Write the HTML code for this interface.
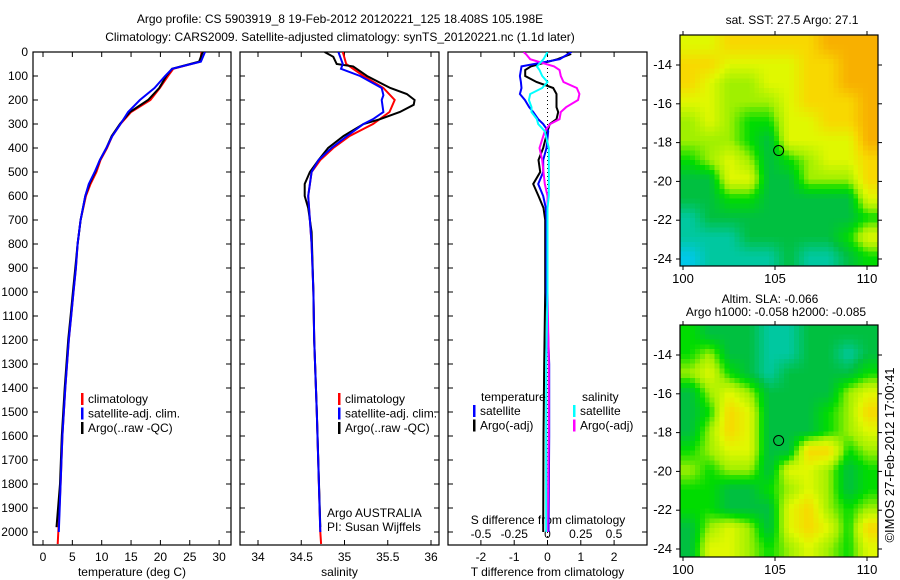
<!DOCTYPE html>
<html><head><meta charset="utf-8">
<style>
html,body{margin:0;padding:0;background:#fff;width:900px;height:580px;overflow:hidden}
svg{position:absolute;left:0;top:0}
text{font-family:"Liberation Sans",sans-serif;font-size:12px;fill:#000}
canvas{position:absolute;image-rendering:pixelated}
</style></head>
<body>
<canvas id="sstmap" width="40" height="48" style="left:680px;top:35px;width:198px;height:231px"></canvas>
<canvas id="slamap" width="40" height="48" style="left:680px;top:325px;width:198px;height:232px"></canvas>
<svg id="chart" width="900" height="580" xmlns="http://www.w3.org/2000/svg">
<text x="340" y="23" text-anchor="middle" font-size="13">Argo profile: CS 5903919_8 19-Feb-2012 20120221_125 18.408S 105.198E</text>
<text x="340" y="41" text-anchor="middle" font-size="13">Climatology: CARS2009. Satellite-adjusted climatology: synTS_20120221.nc (1.1d later)</text>
<g id="g1"></g><g id="g2"></g><g id="g3"></g><g id="gm"></g>
</svg>
<script>
// ---- data ----
const tDepthClim=[0,40,70,100,150,200,250,300,350,400,450,500,550,600,700,800,900,1000,1100,1200,1400,1600,1800,2000,2050];
const tClim=[27.0,26.8,22.2,21.3,19.9,18.3,15.0,13.2,11.8,10.9,9.8,9.1,8.1,7.3,6.4,5.9,5.6,5.2,4.8,4.4,3.8,3.3,3.0,2.6,2.5];
const tDepthSat=[0,40,70,100,150,200,250,300,350,400,450,500,550,600,700,800,900,1000,1100,1200,1400,1600,1800,2000];
const tSat=[27.6,26.9,22.0,20.8,19.0,16.5,14.5,13.2,11.8,10.8,9.7,8.8,7.8,7.2,6.4,5.9,5.6,5.2,4.8,4.4,3.8,3.3,3.0,2.7];
const tDepthArgo=[0,40,70,100,150,200,250,300,350,400,450,500,550,600,700,800,900,1000,1100,1200,1400,1600,1800,1980];
const tArgo=[27.2,26.6,22.0,21.0,19.8,17.9,14.8,13.1,11.7,10.8,9.7,8.9,7.9,7.2,6.4,5.9,5.5,5.1,4.7,4.3,3.7,3.2,2.9,2.3];

const sDepthClim=[0,50,100,150,200,250,300,350,400,450,500,600,800,1000,1200,1500,2000,2050];
const sClim=[34.98,35.02,35.22,35.45,35.58,35.52,35.33,35.06,34.87,34.72,34.62,34.58,34.62,34.64,34.65,34.68,34.72,34.73];
const sDepthSat=[0,50,70,100,150,180,200,250,280,300,350,400,450,500,600,800,1000,1200,1500,2000];
const sSat=[34.93,34.98,34.96,35.18,35.43,35.45,35.43,35.45,35.33,35.22,35.03,34.85,34.70,34.62,34.58,34.62,34.64,34.65,34.68,34.72];
const sDepthArgo=[0,20,50,60,100,150,175,200,220,250,280,300,350,400,450,500,550,600,650,750,1000,1200,1500,1980];
const sArgo=[34.77,34.87,34.91,35.10,35.26,35.53,35.72,35.81,35.80,35.64,35.41,35.22,34.99,34.81,34.70,34.60,34.54,34.54,34.58,34.62,34.64,34.65,34.68,34.72];

const dDepth=[0,10,30,60,75,100,125,150,175,200,230,250,280,300,330,400,450,500,550,600,650,700,1000,1300,1600,2000];
const dTargo=[0.58,0.67,0.3,-0.5,-0.67,-0.67,-0.33,0.17,0.27,0.27,0.27,0.32,0.27,0.07,0,-0.13,-0.27,-0.22,-0.43,-0.27,-0.12,-0.07,-0.07,-0.1,-0.12,-0.13];
const dTsat=[0.72,0.6,0.37,-0.78,-0.8,-0.83,-0.8,-0.78,-0.83,-0.68,-0.55,-0.43,-0.28,-0.13,0.02,-0.03,-0.13,-0.13,-0.28,-0.13,-0.05,-0.03,-0.03,0.05,0.05,0.03];
const dSargo=[-0.18,-0.16,-0.13,0.05,0.09,0.1,0.12,0.22,0.24,0.23,0.14,0.1,0.09,0.02,-0.02,-0.06,-0.04,-0.03,-0.02,0,0,0,0,0.01,0.01,0];
const dSsat=[0,-0.01,-0.03,-0.08,-0.06,-0.04,0,-0.04,-0.13,-0.14,-0.12,-0.12,-0.08,-0.07,-0.02,0.01,0.01,0.01,0.01,0.01,0,0,0,-0.01,-0.01,-0.01];

const depthTicks=[0,100,200,300,400,500,600,700,800,900,1000,1100,1200,1300,1400,1500,1600,1700,1800,1900,2000];
const tTicks=[0,5,10,15,20,25,30];
const sTicks=[34,34.5,35,35.5,36];
const sTickLabels=["34","34.5","35","35.5","36"];
const dTTicks=[-2,-1,0,1,2];
const dSTicks=[-0.5,-0.25,0,0.25,0.5];
const dSTickLabels=["-0.5","-0.25","0","0.25","0.5"];
const lonTicks=[100,105,110];
const latTicks=[-14,-16,-18,-20,-22,-24];

const sstGrid=[
[5,5,6,6,6,6,6,7,7,7],[6,6,5,5,5,5,6,6,7,7],[6,5,4,4,5,5,6,6,7,7],[5,5,4,4,4,5,6,6,6,7],
[4,5,4,3,3,5,5,6,6,7],[4,4,4,3,2,5,5,5,5,7],[3,4,5,4,2,3,4,5,5,6],[2,2,5,5,2,2,4,4,4,6],
[2,2,3,3,2,2,2,2,2,5],[1,2,2,2,2,2,2,2,2,3],[1,1,1,2,2,2,2,2,3,5],[0,1,1,1,1,2,1,1,2,3]];
const slaGrid=[
[3,2,2,2,1,1,2,2,2,2],[3,4,2,2,1,1,2,2,1,2],[4,5,3,2,1,2,2,2,2,3],[2,4,5,4,2,2,2,2,4,5],
[2,3,6,5,2,2,2,3,4,6],[2,4,6,5,2,2,2,3,4,5],[3,4,5,5,2,2,6,6,3,4],[4,3,4,4,2,5,5,4,2,3],
[3,3,2,2,3,4,5,4,2,3],[3,3,2,2,2,5,6,4,3,4],[2,4,5,4,2,5,6,5,3,6],[2,5,5,4,3,4,5,4,3,5]];
const argoLon=105.198, argoLat=-18.408;

// ---- scales ----
const NS="http://www.w3.org/2000/svg";
const yD=d=>52+d*0.24;
const xT=t=>43+t*5.87;
const xS=s=>258+(s-34)*86.5;
const xdT=t=>547.5+t*33.3;
const xdS=s=>547.5+s*133;
function el(tag,attrs,parent,txt){const e=document.createElementNS(NS,tag);for(const k in attrs)e.setAttribute(k,attrs[k]);if(txt!==undefined)e.textContent=txt;parent.appendChild(e);return e;}
function line(xs,ds,fx,color,parent,name){
  let p="";for(let i=0;i<xs.length;i++)p+=(i?"L":"M")+fx(xs[i]).toFixed(1)+","+yD(ds[i]).toFixed(1);
  const e=el("path",{d:p,fill:"none",stroke:color,"stroke-width":2,"clip-path":"url(#clip"+parent.id+")"},parent);
  
  
}
const svg=document.getElementById("chart");
const defs=el("defs",{},svg);
function panel(g,x0,x1,xTicks,labels,fx,xlabel,depthLabels){
  const c=el("clipPath",{id:"clip"+g.id},defs);el("rect",{x:x0,y:52,width:x1-x0,height:493},c);
  const fr=el("rect",{x:x0,y:52,width:x1-x0,height:493,fill:"none",stroke:"#000","stroke-width":1.2},g);
  
  
  depthTicks.forEach(d=>{
    el("line",{x1:x0,x2:x0+5,y1:yD(d),y2:yD(d),stroke:"#000"},g);
    el("line",{x1:x1-5,x2:x1,y1:yD(d),y2:yD(d),stroke:"#000"},g);
    if(depthLabels){const t=el("text",{x:28,y:yD(d)+4,"text-anchor":"end"},g,String(d));
      
      }
  });
  xTicks.forEach((v,i)=>{
    const x=fx(v);
    el("line",{x1:x,x2:x,y1:545,y2:540,stroke:"#000"},g);
    el("line",{x1:x,x2:x,y1:52,y2:57,stroke:"#000"},g);
    if(labels){const t=el("text",{x:x,y:561,"text-anchor":"middle"},g,labels[i]);
      
      }
  });
  if(xlabel){const t=el("text",{x:(x0+x1)/2,y:576,"text-anchor":"middle"},g,xlabel);
    
    }
}
function legend(g,x,y,items){
  items.forEach((it,i)=>{
    el("rect",{x:x,y:y+i*14.5-10,width:2.5,height:12,fill:it[0]},g);
    const t=el("text",{x:x+7,y:y+i*14.5},g,it[1]);
    
    
  });
}
// panel 1
const g1=document.getElementById("g1");
panel(g1,33,231,tTicks,tTicks.map(String),xT,"temperature (deg C)",true);
line(tClim,tDepthClim,xT,"#f00",g1,"temperature-climatology-line");
line(tArgo,tDepthArgo,xT,"#000",g1,"temperature-argo-line");
line(tSat,tDepthSat,xT,"#00f",g1,"temperature-satellite-line");
legend(g1,81,403,[["#f00","climatology"],["#00f","satellite-adj. clim."],["#000","Argo(..raw -QC)"]]);
// panel 2
const g2=document.getElementById("g2");
panel(g2,240,439,sTicks,sTickLabels,xS,"salinity",false);
line(sClim,sDepthClim,xS,"#f00",g2,"salinity-climatology-line");
line(sArgo,sDepthArgo,xS,"#000",g2,"salinity-argo-line");
line(sSat,sDepthSat,xS,"#00f",g2,"salinity-satellite-line");
legend(g2,338,403,[["#f00","climatology"],["#00f","satellite-adj. clim."],["#000","Argo(..raw -QC)"]]);
el("text",{x:327,y:517},g2,"Argo AUSTRALIA");
el("text",{x:327,y:531},g2,"PI: Susan Wijffels");
// panel 3
const g3=document.getElementById("g3");
panel(g3,448,647,dTTicks,dTTicks.map(String),xdT,"T difference from climatology",false);
el("line",{x1:547.5,x2:547.5,y1:52,y2:545,stroke:"#000","stroke-dasharray":"1,3"},g3);
dSTicks.forEach((v,i)=>{const t=el("text",{x:xdS(v),y:538,"text-anchor":"middle"},g3,dSTickLabels[i]);
  
  });
el("text",{x:548,y:524,"text-anchor":"middle"},g3,"S difference from climatology");
line(dTargo,dDepth,xdT,"#000",g3,"t-diff-argo-line");
line(dTsat,dDepth,xdT,"#00f",g3,"t-diff-satellite-line");
line(dSargo,dDepth,xdS,"#f0f",g3,"s-diff-argo-line");
line(dSsat,dDepth,xdS,"#0ff",g3,"s-diff-satellite-line");
el("text",{x:481,y:401},g3,"temperature");
el("text",{x:582,y:401},g3,"salinity");
legend(g3,473,415,[["#00f","satellite"],["#000","Argo(-adj)"]]);
legend(g3,573,415,[["#0ff","satellite"],["#f0f","Argo(-adj)"]]);
// maps
const cols=[[0,200,232],[0,200,160],[0,192,64],[0,220,0],[160,240,0],[224,248,0],[248,216,0],[248,176,0]];
function colorAt(v){v=Math.max(0,Math.min(7,v));const i=Math.min(6,Math.floor(v)),f=v-i;
  const a=cols[i],b=cols[i+1];return "rgb("+a.map((c,k)=>Math.round(c+(b[k]-c)*f)).join(",")+")";}
function drawMap(id,grid){const cv=document.getElementById(id),c=cv.getContext("2d");
  const W=cv.width,H=cv.height,R=grid.length,C=grid[0].length;
  for(let y=0;y<H;y++)for(let x=0;x<W;x++){
    const gx=Math.max(0,Math.min(C-1,(x+0.5)*C/W-0.5)),gy=Math.max(0,Math.min(R-1,(y+0.5)*R/H-0.5));
    const x0=Math.floor(gx),y0=Math.floor(gy),x1=Math.min(C-1,x0+1),y1=Math.min(R-1,y0+1),fx=gx-x0,fy=gy-y0;
    const v=grid[y0][x0]*(1-fx)*(1-fy)+grid[y0][x1]*fx*(1-fy)+grid[y1][x0]*(1-fx)*fy+grid[y1][x1]*fx*fy;
    c.fillStyle=colorAt(v);c.fillRect(x,y,1,1);}}
drawMap("sstmap",sstGrid);drawMap("slamap",slaGrid);
const gm=document.getElementById("gm");
function mapAxes(top,bot,lat14,lat24,name){
  const fr=el("rect",{x:680,y:top,width:198,height:bot-top,fill:"none",stroke:"#000","stroke-width":1.2},gm);
  
  
  const lx=v=>683+(v-100)*18.4, ly=v=>lat14+(v+14)*(lat24-lat14)/-10;
  lonTicks.forEach(v=>{el("line",{x1:lx(v),x2:lx(v),y1:bot,y2:bot+4,stroke:"#000"},gm);
    el("line",{x1:lx(v),x2:lx(v),y1:top,y2:top-4,stroke:"#000"},gm);
    el("text",{x:lx(v),y:bot+17,"text-anchor":"middle",style:"font-size:13px"},gm,String(v));});
  latTicks.forEach(v=>{el("line",{x1:676,x2:680,y1:ly(v),y2:ly(v),stroke:"#000"},gm);
    el("line",{x1:878,x2:882,y1:ly(v),y2:ly(v),stroke:"#000"},gm);
    el("text",{x:672,y:ly(v)+4,"text-anchor":"end",style:"font-size:13px"},gm,String(v));});
  const m=el("circle",{cx:lx(argoLon),cy:ly(argoLat),r:5,fill:"none",stroke:"#000","stroke-width":1},gm);
  
  
}
mapAxes(35,266,65,259,"sst-map");
mapAxes(325,557,355,549,"sla-map");
el("text",{x:792,y:24,"text-anchor":"middle"},gm,"sat. SST: 27.5 Argo: 27.1");
el("text",{x:770,y:303,"text-anchor":"middle"},gm,"Altim. SLA: -0.066");
el("text",{x:776,y:316,"text-anchor":"middle"},gm,"Argo h1000: -0.058 h2000: -0.085");
el("text",{x:0,y:0,transform:"translate(894,455) rotate(-90)","text-anchor":"middle",style:"font-size:13px"},gm,"\u00A9IMOS 27-Feb-2012 17:00:41");
</script>
</body></html>
